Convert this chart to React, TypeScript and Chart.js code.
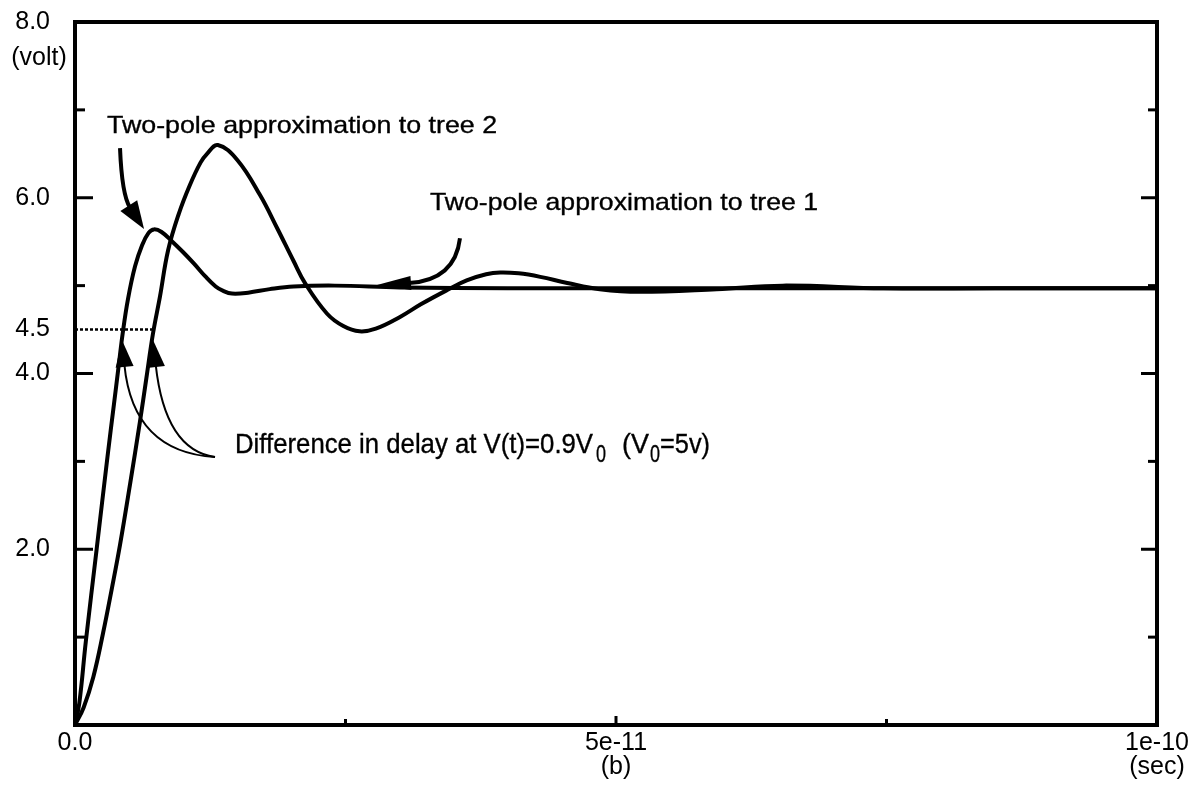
import { useEffect, useRef } from 'react';
import { Chart, registerables } from 'chart.js';

Chart.register(...registerables);

// ---- data (time in seconds, voltage in volts) ----
const fastTime = [0, 0.04e-11, 0.1e-11, 0.2e-11, 0.3e-11, 0.36e-11, 0.4e-11, 0.44e-11, 0.49e-11, 0.555e-11, 0.62e-11, 0.68e-11, 0.73e-11, 0.8e-11, 0.9e-11, 1.0e-11, 1.1e-11, 1.2e-11, 1.3e-11, 1.37e-11, 1.45e-11, 1.6e-11, 1.8e-11, 2.02e-11, 2.4e-11, 3.0e-11, 4.0e-11, 6.0e-11, 8.0e-11, 10.0e-11];
const fastVolt = [0, 0.25, 0.95, 2.0, 3.05, 3.65, 4.05, 4.45, 4.85, 5.22, 5.46, 5.6, 5.64, 5.61, 5.5, 5.38, 5.25, 5.11, 4.99, 4.94, 4.91, 4.92, 4.96, 4.99, 5.0, 4.98, 4.97, 4.97, 4.97, 4.97];

const slowTime = [0, 0.08e-11, 0.17e-11, 0.26e-11, 0.34e-11, 0.416e-11, 0.51e-11, 0.6e-11, 0.66e-11, 0.72e-11, 0.786e-11, 0.86e-11, 0.96e-11, 1.06e-11, 1.16e-11, 1.22e-11, 1.32e-11, 1.5e-11, 1.71e-11, 1.87e-11, 2.02e-11, 2.13e-11, 2.33e-11, 2.48e-11, 2.63e-11, 2.78e-11, 3.0e-11, 3.2e-11, 3.44e-11, 3.62e-11, 3.8e-11, 3.93e-11, 4.1e-11, 4.3e-11, 4.55e-11, 4.85e-11, 5.22e-11, 5.93e-11, 6.54e-11, 7.47e-11, 8.5e-11, 10.0e-11];
const slowVolt = [0, 0.2, 0.55, 1.05, 1.55, 2.05, 2.75, 3.45, 3.95, 4.45, 4.88, 5.4, 5.82, 6.14, 6.4, 6.5, 6.6, 6.43, 6.03, 5.65, 5.28, 5.02, 4.68, 4.54, 4.48, 4.51, 4.64, 4.79, 4.95, 5.06, 5.13, 5.15, 5.14, 5.1, 5.03, 4.96, 4.93, 4.96, 5.0, 4.97, 4.97, 4.97];

const levelTime = [0, 0.74e-11];
const levelVolt = [4.5, 4.5];

const yLabelValues = [2, 4, 4.5, 6, 8];
const yMajorTicks = [2, 4, 6];
const yMinorTicks = [1, 3, 5, 7];
const xLabelValues = [0, 5e-11, 1e-10];
const xTickLabels: (string | string[])[] = ['0.0', ['5e-11', '(b)'], ['1e-10', '(sec)']];
const xMajorTicks = [5e-11];
const xMinorTicks = [2.5e-11, 7.5e-11];

const FONT = '"Liberation Sans", Arial, Helvetica, sans-serif';

type Pt = { x: number; y: number };

function stretchText(ctx: CanvasRenderingContext2D, text: string, x: number, y: number, size: number, width: number) {
  ctx.font = `${size}px ${FONT}`;
  const w = ctx.measureText(text).width;
  ctx.save();
  ctx.translate(x, y);
  ctx.scale(width / w, 1);
  ctx.textAlign = 'left';
  ctx.textBaseline = 'alphabetic';
  ctx.fillText(text, 0, 0);
  ctx.lineWidth = 0.35;
  ctx.strokeText(text, 0, 0);
  ctx.restore();
}

function arrow(ctx: CanvasRenderingContext2D, p0: Pt, c: Pt, tip: Pt, headLen: number, headW: number, lw: number) {
  const dx = tip.x - c.x;
  const dy = tip.y - c.y;
  const L = Math.hypot(dx, dy);
  const ux = dx / L;
  const uy = dy / L;
  const bx = tip.x - ux * headLen;
  const by = tip.y - uy * headLen;
  ctx.lineWidth = lw;
  ctx.beginPath();
  ctx.moveTo(p0.x, p0.y);
  ctx.quadraticCurveTo(c.x, c.y, bx + ux * 2, by + uy * 2);
  ctx.stroke();
  ctx.beginPath();
  ctx.moveTo(tip.x, tip.y);
  ctx.lineTo(bx - (uy * headW) / 2, by + (ux * headW) / 2);
  ctx.lineTo(bx + (uy * headW) / 2, by - (ux * headW) / 2);
  ctx.closePath();
  ctx.fill();
}

// annotation anchors in data units [time, volt]
const arrows = [
  { p0: [0.416e-11, 6.564], c: [0.434e-11, 6.03], tip: [0.638e-11, 5.643], head: 28, w: 20, lw: 4 },
  { p0: [3.558e-11, 5.54], c: [3.512e-11, 5.063], tip: [2.791e-11, 5.006], head: 34, w: 14, lw: 4 },
  { p0: [1.294e-11, 3.049], c: [0.536e-11, 3.106], tip: [0.434e-11, 4.38], head: 27, w: 18, lw: 2 },
  { p0: [1.294e-11, 3.049], c: [0.832e-11, 3.129], tip: [0.721e-11, 4.38], head: 27, w: 18, lw: 2 },
];

const decor = {
  id: 'decor',
  afterDatasetsDraw(chart: any) {
    const { ctx, chartArea: a, scales } = chart;
    const xs = scales.x;
    const ys = scales.y;
    const P = (d: number[]): Pt => ({ x: xs.getPixelForValue(d[0]), y: ys.getPixelForValue(d[1]) });
    ctx.save();
    ctx.strokeStyle = '#000';
    ctx.fillStyle = '#000';
    ctx.lineCap = 'butt';

    // frame
    ctx.lineWidth = 4;
    ctx.strokeRect(a.left, a.top, a.right - a.left, a.bottom - a.top);

    // inward ticks
    ctx.lineWidth = 3;
    const tick = (x1: number, y1: number, x2: number, y2: number) => {
      ctx.beginPath();
      ctx.moveTo(x1, y1);
      ctx.lineTo(x2, y2);
      ctx.stroke();
    };
    yMajorTicks.forEach((v) => {
      const py = ys.getPixelForValue(v);
      tick(a.left, py, a.left + 18, py);
      tick(a.right, py, a.right - 16, py);
    });
    yMinorTicks.forEach((v) => {
      const py = ys.getPixelForValue(v);
      tick(a.left, py, a.left + 10, py);
      tick(a.right, py, a.right - 9, py);
    });
    xMajorTicks.forEach((v) => {
      const px = xs.getPixelForValue(v);
      tick(px, a.bottom, px, a.bottom - 9);
    });
    xMinorTicks.forEach((v) => {
      const px = xs.getPixelForValue(v);
      tick(px, a.bottom, px, a.bottom - 6);
    });

    // unit label
    ctx.font = `25px ${FONT}`;
    ctx.textAlign = 'center';
    ctx.textBaseline = 'middle';
    ctx.fillText('(volt)', a.left - 36, ys.getPixelForValue(8) + 36);

    // arrows
    arrows.forEach((ar) => arrow(ctx, P(ar.p0), P(ar.c), P(ar.tip), ar.head, ar.w, ar.lw));

    // texts
    const t2 = P([0.296e-11, 6.735]);
    stretchText(ctx, 'Two-pole approximation to tree 2', t2.x, t2.y, 24, 390);
    const t1 = P([3.281e-11, 5.859]);
    stretchText(ctx, 'Two-pole approximation to tree 1', t1.x, t1.y, 24, 388);
    const d = P([1.479e-11, 3.094]);
    stretchText(ctx, 'Difference in delay at V(t)=0.9V', d.x, d.y, 28, 358);
    stretchText(ctx, '0', d.x + 361, d.y + 9, 23, 10);
    stretchText(ctx, '(V', d.x + 387, d.y, 28, 27);
    stretchText(ctx, '0', d.x + 415, d.y + 9, 23, 10);
    stretchText(ctx, '=5v)', d.x + 425, d.y, 28, 50);

    ctx.restore();
  },
};

export default function App() {
  const ref = useRef<HTMLCanvasElement>(null);
  useEffect(() => {
    document.body.style.margin = '0';
    const toPts = (t: number[], v: number[]) => t.map((tt, i) => ({ x: tt, y: v[i] }));
    const line = {
      borderColor: '#000',
      borderWidth: 4,
      pointRadius: 0,
      fill: false,
      tension: 0.4,
    };
    const chart = new Chart(ref.current!, {
      type: 'line',
      data: {
        datasets: [
          { ...line, label: 'tree 2', data: toPts(fastTime, fastVolt) },
          { ...line, label: 'tree 1', data: toPts(slowTime, slowVolt) },
          { label: '0.9V0', data: toPts(levelTime, levelVolt), borderColor: '#000', borderWidth: 2.5, borderDash: [3, 2], pointRadius: 0, fill: false },
        ],
      },
      options: {
        animation: false,
        responsive: false,
        devicePixelRatio: 1,
        layout: { padding: { top: 22, right: 47, left: 0, bottom: 0 } },
        plugins: { legend: { display: false }, tooltip: { enabled: false } },
        scales: {
          x: {
            type: 'linear',
            min: 0,
            max: 1e-10,
            grid: { display: false, drawTicks: false },
            border: { display: false },
            afterBuildTicks: (s: any) => {
              s.ticks = xLabelValues.map((v) => ({ value: v }));
            },
            afterFit: (s: any) => {
              s.height = 71;
              s.paddingLeft = 0;
              s.paddingRight = 0;
            },
            ticks: {
              autoSkip: false,
              maxRotation: 0,
              padding: 6,
              color: '#000',
              font: { family: FONT, size: 25, lineHeight: 0.96 },
              callback: (_v: any, i: number) => xTickLabels[i],
            },
          },
          y: {
            type: 'linear',
            min: 0,
            max: 8,
            grid: { display: false, drawTicks: false },
            border: { display: false },
            afterBuildTicks: (s: any) => {
              s.ticks = yLabelValues.map((v) => ({ value: v }));
            },
            afterFit: (s: any) => {
              s.width = 75;
              s.paddingTop = 0;
              s.paddingBottom = 0;
            },
            ticks: {
              autoSkip: false,
              padding: 25,
              color: '#000',
              font: { family: FONT, size: 25 },
              callback: (v: any) => Number(v).toFixed(1),
            },
          },
        },
      },
      plugins: [decor],
    });
    return () => chart.destroy();
  }, []);
  return (
    <div style={{ width: 1204, height: 796, background: '#fff' }}>
      <canvas ref={ref} width={1204} height={796} style={{ display: 'block' }} />
    </div>
  );
}
